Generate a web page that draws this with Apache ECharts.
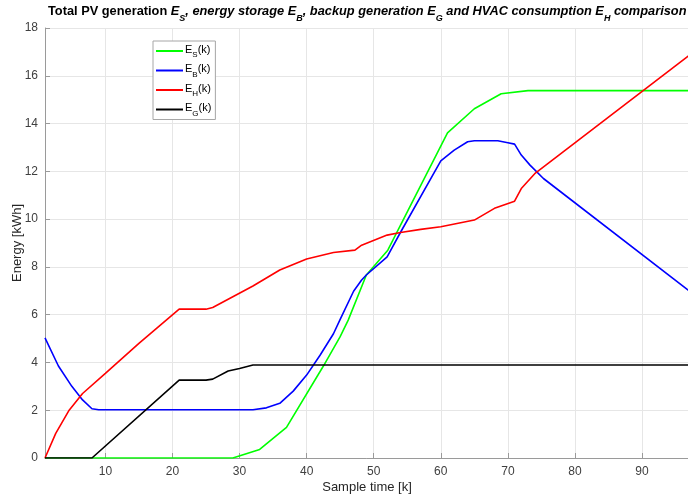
<!DOCTYPE html>
<html>
<head>
<meta charset="utf-8">
<script src="https://cdn.jsdelivr.net/npm/echarts@6/dist/echarts.min.js"></script>
<style>
  html, body { margin: 0; padding: 0; background: #ffffff; }
  #chart { width: 688px; height: 497px; }
</style>
</head>
<body>
<div id="chart"></div>
<script>
// Sample times and energy values [kWh] for each quantity
const kS = [1, 29, 33, 37, 42.5, 45, 46.2, 48.9, 52.1, 61, 65, 69, 73, 97];
const eS = [0, 0, 0.36, 1.28, 3.85, 5.08, 5.77, 7.66, 8.7, 13.61, 14.62, 15.25, 15.38, 15.38];

const kB = [1, 3, 5, 6.6, 8, 9, 32, 34, 36, 38, 40, 42, 44, 45, 47, 48.2, 48.9, 52, 54, 60, 62, 64, 65, 68.5, 70, 71, 72, 73.3, 75.3, 97];
const eB = [5.03, 3.85, 3.0, 2.43, 2.06, 2.02, 2.02, 2.1, 2.29, 2.8, 3.47, 4.3, 5.2, 5.8, 6.98, 7.45, 7.66, 8.42, 9.45, 12.44, 12.89, 13.24, 13.28, 13.28, 13.2, 13.14, 12.68, 12.26, 11.7, 7.0];

const kH = [1, 2.6, 4.6, 6.6, 10, 15, 21, 25, 26, 29, 32, 36, 40, 44, 47.2, 48.2, 52, 54, 57, 60, 65, 68, 71, 72, 74, 76, 97];
const eH = [0, 1.03, 2.0, 2.7, 3.54, 4.8, 6.23, 6.23, 6.3, 6.75, 7.2, 7.87, 8.33, 8.6, 8.7, 8.91, 9.33, 9.44, 9.57, 9.68, 9.96, 10.45, 10.75, 11.28, 11.9, 12.33, 16.85];

const kG = [1, 8, 21, 25, 26, 28.3, 30, 32, 97];
const eG = [0, 0, 3.26, 3.26, 3.3, 3.64, 3.75, 3.89, 3.89];

const subs = ['S', 'B', 'H', 'G'];
const seriesNames = ['E_S(k)', 'E_B(k)', 'E_H(k)', 'E_G(k)'];
const seriesColors = ['#00ff00', '#0000ff', '#ff0000', '#000000'];
const seriesK = [kS, kB, kH, kG];
const seriesE = [eS, eB, eH, eG];

const yTicks = [0, 2, 4, 6, 8, 10, 12, 14, 16, 18];

const FONT = '"Liberation Sans", Arial, Helvetica, sans-serif';

const chart = echarts.init(document.getElementById('chart'), null, { renderer: 'canvas' });

const titleText =
  '{n|Total PV generation }' +
  '{i|E}{s|S}{i|, energy storage }' +
  '{i|E}{s|B}{i|, backup generation }' +
  '{i|E}{s|G}{i| and HVAC consumption }' +
  '{i|E}{s|H}{i| comparison}';

const option = {
  backgroundColor: '#ffffff',
  animation: false,
  title: {
    text: titleText,
    left: 43,
    top: 0,
    textStyle: {
      rich: {
        n: { fontFamily: FONT, fontSize: 12.8, fontWeight: 'bold', color: '#000', lineHeight: 18, verticalAlign: 'top' },
        i: { fontFamily: FONT, fontSize: 12.8, fontWeight: 'bold', fontStyle: 'italic', color: '#000', lineHeight: 18, verticalAlign: 'top' },
        s: { fontFamily: FONT, fontSize: 9, fontWeight: 'bold', fontStyle: 'italic', color: '#000', lineHeight: 10, padding: [9, 0, 0, 0], verticalAlign: 'top' }
      }
    }
  },
  legend: {
    orient: 'vertical',
    left: 153,
    top: 41,
    padding: [3, 4, 2, 3],
    itemGap: 4.5,
    icon: 'rect',
    itemWidth: 27,
    itemHeight: 2,
    borderColor: '#a6a6a6',
    borderWidth: 1,
    borderRadius: 0,
    backgroundColor: '#ffffff',
    data: seriesNames,
    formatter: function (name) {
      const idx = seriesNames.indexOf(name);
      return '{n|E}{s|' + subs[idx] + '}{n|(k)}';
    },
    textStyle: {
      padding: [0, 0, 0, -3],
      rich: {
        n: { fontFamily: FONT, fontSize: 11, color: '#000', lineHeight: 14, verticalAlign: 'top' },
        s: { fontFamily: FONT, fontSize: 8, color: '#000', lineHeight: 8, padding: [7, 0, 0, 0], verticalAlign: 'top' }
      }
    }
  },
  grid: { left: 45, right: -1, top: 28, bottom: 39, containLabel: false, outerBoundsMode: 'none' },
  xAxis: {
    type: 'value',
    min: 1,
    max: 97,
    splitNumber: 10,
    name: 'Sample time [k]',
    nameLocation: 'middle',
    nameGap: 23,
    nameMoveOverlap: false,
    nameTextStyle: { fontFamily: FONT, fontSize: 13, color: '#262626' },
    axisLine: { show: true, onZero: false, lineStyle: { color: '#9a9a9a', width: 1 } },
    axisTick: { show: true, inside: true, length: 5, lineStyle: { color: '#9a9a9a' } },
    axisLabel: { fontFamily: FONT, fontSize: 12, color: '#404040', margin: 8, showMinLabel: false, showMaxLabel: false },
    splitLine: { show: true, lineStyle: { color: '#e6e6e6', width: 1 } }
  },
  yAxis: {
    type: 'value',
    min: yTicks[0],
    max: yTicks[yTicks.length - 1],
    interval: 2,
    name: 'Energy [kWh]',
    nameLocation: 'middle',
    nameGap: 21,
    nameMoveOverlap: false,
    nameTextStyle: { fontFamily: FONT, fontSize: 13, color: '#262626' },
    axisLine: { show: true, lineStyle: { color: '#9a9a9a', width: 1 } },
    axisTick: { show: true, inside: true, length: 5, lineStyle: { color: '#9a9a9a' } },
    axisLabel: { fontFamily: FONT, fontSize: 12, color: '#404040', margin: 7 },
    splitLine: { show: true, lineStyle: { color: '#e6e6e6', width: 1 } }
  },
  series: seriesNames.map(function (name, idx) {
    return {
      name: name,
      type: 'line',
      symbol: 'none',
      smooth: false,
      clip: true,
      data: seriesK[idx].map(function (k, j) { return [k, seriesE[idx][j]]; }),
      lineStyle: { color: seriesColors[idx], width: 1.6 },
      itemStyle: { color: seriesColors[idx] },
      z: 2 + idx
    };
  })
};

chart.setOption(option);
</script>
</body>
</html>
